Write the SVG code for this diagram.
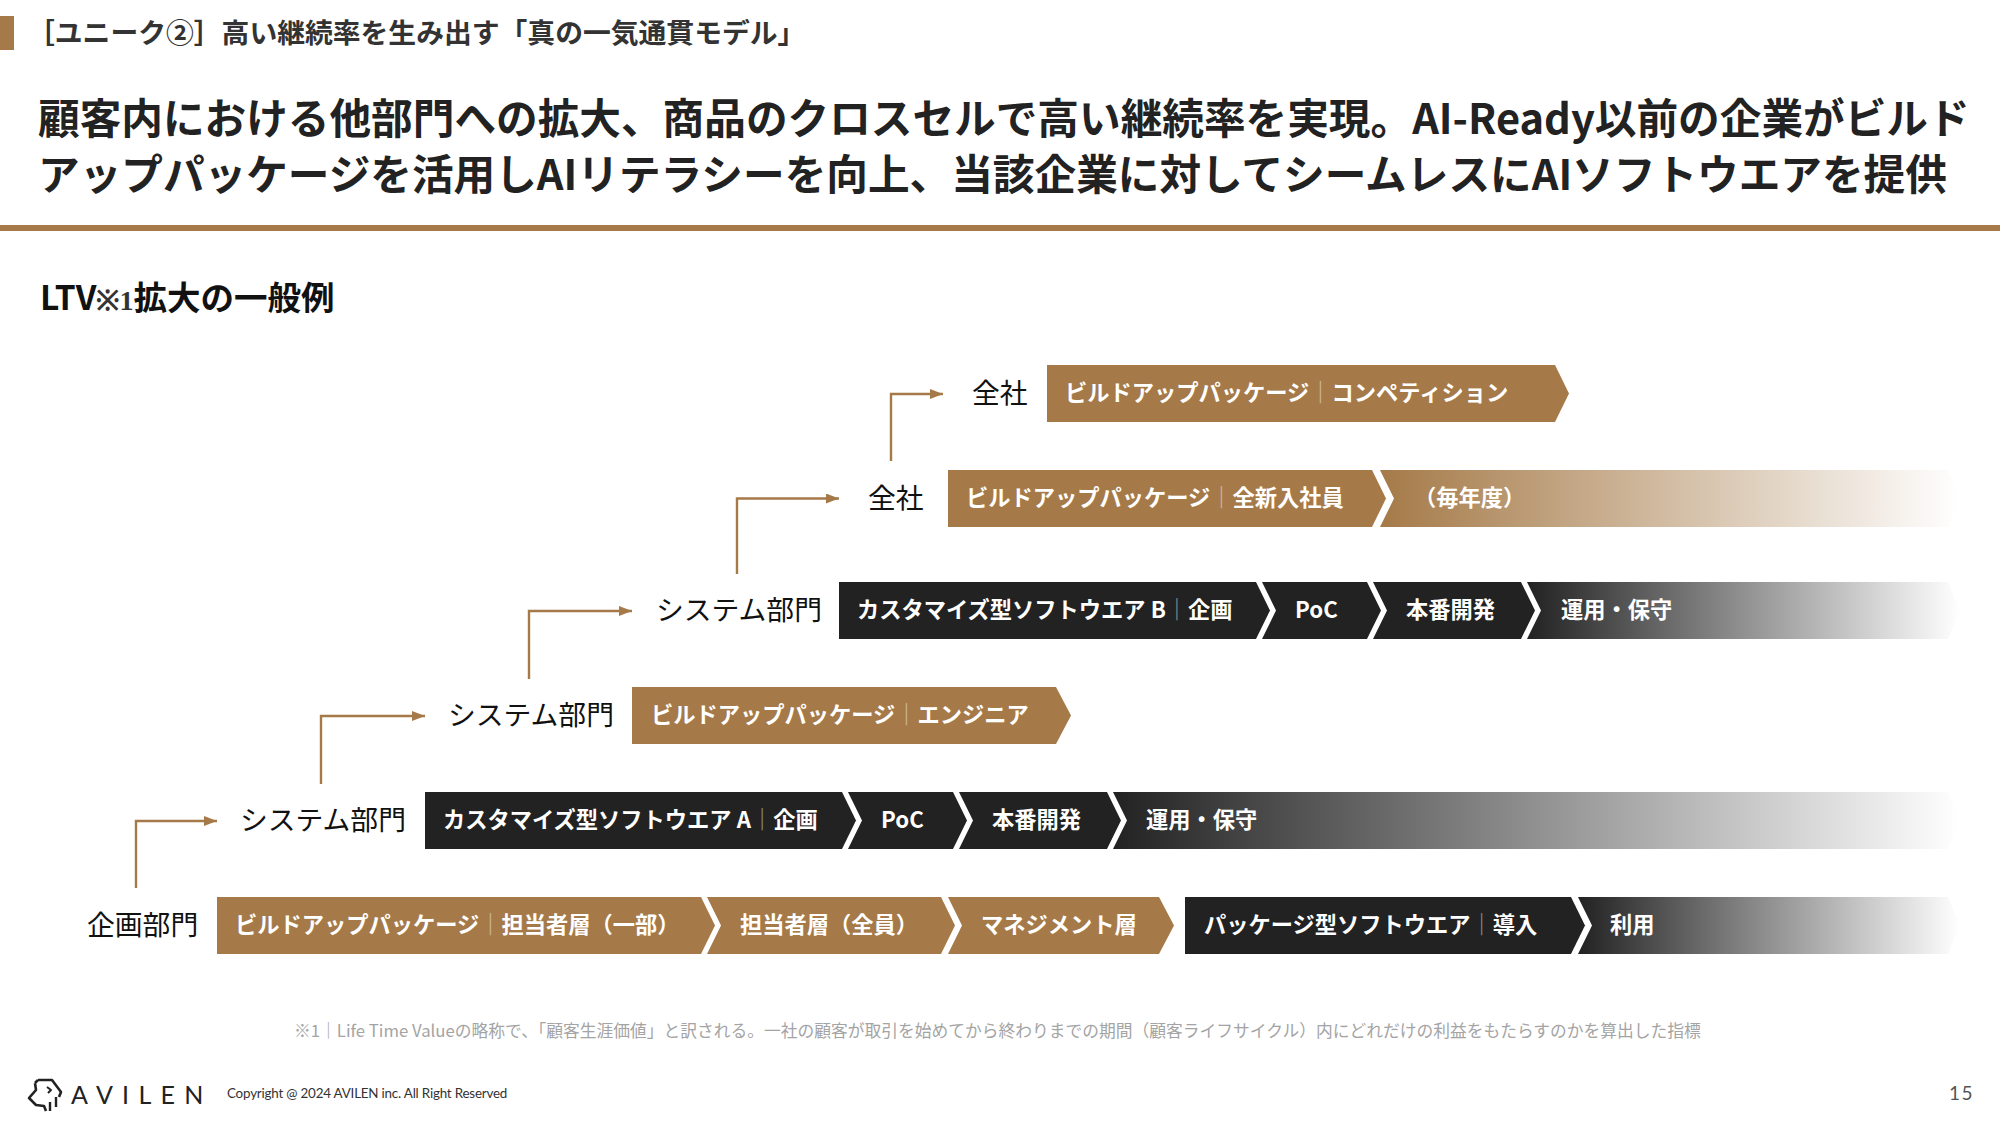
<svg xmlns="http://www.w3.org/2000/svg" width="2000" height="1125" viewBox="0 0 2000 1125">
<style>
text{font-family:"Noto Sans CJK JP","Noto Sans",sans-serif}
.tan{fill:#a57a48}.dark{fill:#222}
.bar{font-size:22.25px;font-weight:700;fill:#fff}
.sep{opacity:.5;font-weight:400}
.lab{font-size:27.8px;fill:#111;font-weight:400}
.title{font-size:41.65px;font-weight:700;fill:#222}
.conn{fill:none;stroke:#a57a48;stroke-width:2.4}
</style>
<defs>
<linearGradient id="gd"><stop offset="0" stop-color="#222"/><stop offset="1" stop-color="#fff"/></linearGradient>
<linearGradient id="gt"><stop offset="0" stop-color="#a57a48"/><stop offset="1" stop-color="#fff"/></linearGradient>
<marker id="ah" markerUnits="userSpaceOnUse" markerWidth="13" markerHeight="10" refX="13" refY="5" orient="auto"><path d="M0 0L13 5L0 10Z" fill="#a57a48"/></marker>
</defs>
<rect width="2000" height="1125" fill="#fff"/>
<g id="header">
<rect class="tan" x="0" y="16" width="14" height="34"/>
<text x="27" y="43" font-size="27.800" font-weight="700" fill="#333">［ユニーク②］高い継続率を生み出す「真の一気通貫モデル」</text>
<text class="title" x="38" y="134">顧客内における他部門への拡大、商品のクロスセルで高い継続率を実現。AI-Ready以前の企業がビルド</text>
<text class="title" x="38" y="190">アップパッケージを活用しAIリテラシーを向上、当該企業に対してシームレスにAIソフトウエアを提供</text>
<rect class="tan" x="0" y="225" width="2000" height="6"/>
<text x="40" y="310" font-size="33.500" font-weight="700" fill="#111">LTV<tspan font-size="28" font-family="Liberation Serif,serif" fill="#333">※1</tspan>拡大の一般例</text>
</g>
<g id="connectors">
<path class="conn" marker-end="url(#ah)" d="M136 888V821H217"/>
<path class="conn" marker-end="url(#ah)" d="M321 784V716H425"/>
<path class="conn" marker-end="url(#ah)" d="M529 679V611H632"/>
<path class="conn" marker-end="url(#ah)" d="M737 574V498.500H839"/>
<path class="conn" marker-end="url(#ah)" d="M891 461V394H943"/>
</g>
<g id="row1">
<text class="lab" x="972" y="403">全社</text>
<path class="tan" d="M1047 365H1555L1569 393.500L1555 422H1047Z"/>
<text class="bar" x="1065" y="401">ビルドアップパッケージ<tspan class="sep">｜</tspan>コンペティション</text>
</g>
<g id="row2">
<text class="lab" x="868" y="508">全社</text>
<path class="tan" d="M948 470H1372L1386 498.500L1372 527H948Z"/>
<text class="bar" x="966" y="506">ビルドアップパッケージ<tspan class="sep">｜</tspan>全新入社員</text>
<path fill="url(#gt)" d="M1380 470H1948L1960 498.500L1948 527H1380L1394 498.500Z"/>
<text class="bar" x="1414" y="506">（毎年度）</text>
</g>
<g id="row3">
<text class="lab" x="656" y="620">システム部門</text>
<path class="dark" d="M839 582H1256L1270 610.500L1256 639H839Z"/>
<text class="bar" x="857" y="618">カスタマイズ型ソフトウエア B<tspan class="sep">｜</tspan>企画</text>
<path class="dark" d="M1262 582H1367L1381 610.500L1367 639H1262L1276 610.500Z"/>
<text class="bar" x="1295" y="618">PoC</text>
<path class="dark" d="M1373 582H1521L1535 610.500L1521 639H1373L1387 610.500Z"/>
<text class="bar" x="1406" y="618">本番開発</text>
<path fill="url(#gd)" d="M1527 582H1948L1960 610.500L1948 639H1527L1541 610.500Z"/>
<text class="bar" x="1561" y="618">運用・保守</text>
</g>
<g id="row4">
<text class="lab" x="448" y="725">システム部門</text>
<path class="tan" d="M632 687H1056L1071 715.500L1056 744H632Z"/>
<text class="bar" x="651" y="723">ビルドアップパッケージ<tspan class="sep">｜</tspan>エンジニア</text>
</g>
<g id="row5">
<text class="lab" x="240" y="830">システム部門</text>
<path class="dark" d="M425 792H842L856 820.500L842 849H425Z"/>
<text class="bar" x="443" y="828">カスタマイズ型ソフトウエア A<tspan class="sep">｜</tspan>企画</text>
<path class="dark" d="M848 792H953L967 820.500L953 849H848L862 820.500Z"/>
<text class="bar" x="881" y="828">PoC</text>
<path class="dark" d="M959 792H1107L1121 820.500L1107 849H959L973 820.500Z"/>
<text class="bar" x="992" y="828">本番開発</text>
<path fill="url(#gd)" d="M1113 792H1948L1960 820.500L1948 849H1113L1127 820.500Z"/>
<text class="bar" x="1146" y="828">運用・保守</text>
</g>
<g id="row6">
<text class="lab" x="87" y="935">企画部門</text>
<path class="tan" d="M217 897H701L715 925.500L701 954H217Z"/>
<text class="bar" x="235" y="933">ビルドアップパッケージ<tspan class="sep">｜</tspan>担当者層（一部）</text>
<path class="tan" d="M707 897H941L955 925.500L941 954H707L721 925.500Z"/>
<text class="bar" x="740" y="933">担当者層（全員）</text>
<path class="tan" d="M948 897H1159L1174 925.500L1159 954H948L962 925.500Z"/>
<text class="bar" x="981" y="933">マネジメント層</text>
<path class="dark" d="M1185 897H1571L1585 925.500L1571 954H1185Z"/>
<text class="bar" x="1204" y="933">パッケージ型ソフトウエア<tspan class="sep">｜</tspan>導入</text>
<path fill="url(#gd)" d="M1578 897H1948L1960 925.500L1948 954H1578L1592 925.500Z"/>
<text class="bar" x="1610" y="933">利用</text>
</g>
<g id="footer">
<text x="294" y="1037" font-size="16.750" fill="#a4a4a4">※1｜Life Time Valueの略称で、「顧客生涯価値」と訳される。一社の顧客が取引を始めてから終わりまでの期間（顧客ライフサイクル）内にどれだけの利益をもたらすのかを算出した指標</text>
<g id="logo" fill="none" stroke="#222" stroke-width="2.6" stroke-linejoin="round">
<path d="M38 1080H52L61 1092L59 1097M35 1083L38 1080M35 1083L36 1090L29 1098L36 1105L44 1106L46 1111"/>
<path d="M47 1087L51 1090L48 1093" stroke-width="2"/>
<path d="M50 1111V1102M56 1107V1097" stroke-width="2.400"/>
</g>
<text x="71" y="1104" font-size="25" fill="#222" style="font-family:Lato,sans-serif;letter-spacing:9.300px">AVILEN</text>
<text x="227" y="1098" font-size="13.400" fill="#333" style="font-family:Lato,sans-serif;letter-spacing:-.2px">Copyright @ 2024 AVILEN inc. All Right Reserved</text>
<text x="1949" y="1100" font-size="19" fill="#555" style="font-family:Lato,sans-serif;letter-spacing:1.5px">15</text>
</g>
</svg>
